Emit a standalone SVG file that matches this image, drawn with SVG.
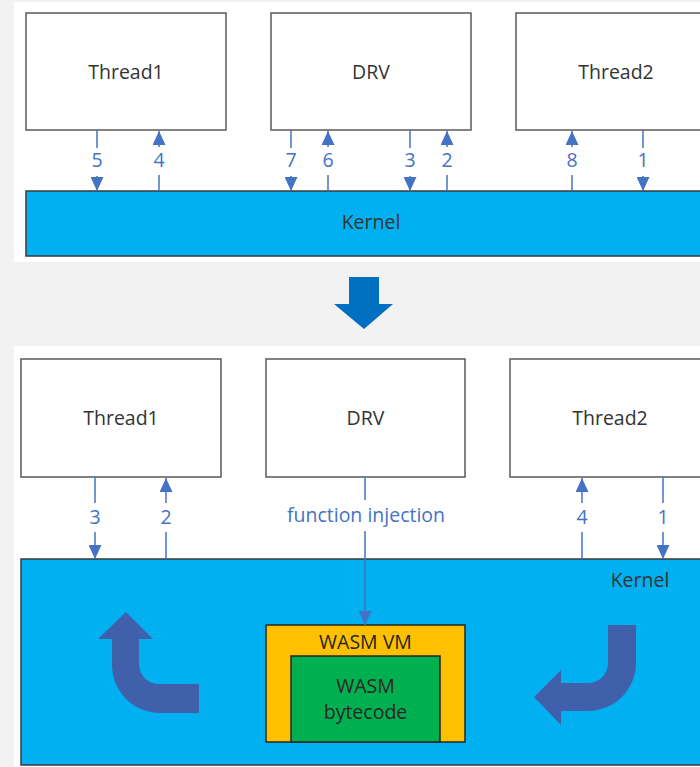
<svg xmlns="http://www.w3.org/2000/svg" width="700" height="767" viewBox="0 0 700 767">
<defs>
<marker id="ah" markerUnits="userSpaceOnUse" viewBox="0 0 14 13" refX="14" refY="6.5" markerWidth="14" markerHeight="13" orient="auto">
<path d="M0,0 L14,6.5 L0,13 Z" fill="#4472c4"/>
</marker>
<style>
.box{fill:#ffffff;stroke:#595959;stroke-width:1.5}
.kern{fill:#00b0f0;stroke:#3a3a3a;stroke-width:1.5}
.lbl{font-family:"Open Sans","Noto Sans",sans-serif;font-size:19.5px;fill:#333333;text-anchor:middle}
.num{font-family:"Open Sans","Noto Sans",sans-serif;font-size:19.5px;fill:#4472c4;text-anchor:middle}
.ln{stroke:#4472c4;stroke-width:1.5;fill:none}
.arr{marker-end:url(#ah)}
.curve{fill:#4060ab}
</style>
</defs>
<rect x="0" y="0" width="700" height="767" fill="#f2f2f2"/>
<rect x="14" y="2" width="700" height="260" fill="#ffffff"/>
<rect x="14" y="346" width="700" height="430" fill="#ffffff"/>

<!-- Top panel -->
<g id="top-kernel">
<rect class="kern" x="26" y="191" width="700" height="65"/>
<text class="lbl" x="371" y="229">Kernel</text>
</g>
<g id="top-thread1">
<rect class="box" x="26" y="13" width="200" height="117"/>
<text class="lbl" x="126" y="79">Thread1</text>
</g>
<g id="top-drv">
<rect class="box" x="271" y="13" width="200" height="117"/>
<text class="lbl" x="371" y="79">DRV</text>
</g>
<g id="top-thread2">
<rect class="box" x="516" y="13" width="200" height="117"/>
<text class="lbl" x="616" y="79">Thread2</text>
</g>

<g id="top-connectors">
<line class="ln" x1="97" y1="130" x2="97" y2="148"/><line class="ln arr" x1="97" y1="176" x2="97" y2="191"/>
<text class="num" x="97" y="167">5</text>
<line class="ln arr" x1="159" y1="147" x2="159" y2="131"/><line class="ln" x1="159" y1="175" x2="159" y2="191"/>
<text class="num" x="159" y="167">4</text>
<line class="ln" x1="291" y1="130" x2="291" y2="148"/><line class="ln arr" x1="291" y1="176" x2="291" y2="191"/>
<text class="num" x="291" y="167">7</text>
<line class="ln arr" x1="328" y1="147" x2="328" y2="131"/><line class="ln" x1="328" y1="175" x2="328" y2="191"/>
<text class="num" x="328" y="167">6</text>
<line class="ln" x1="410" y1="130" x2="410" y2="148"/><line class="ln arr" x1="410" y1="176" x2="410" y2="191"/>
<text class="num" x="410" y="167">3</text>
<line class="ln arr" x1="447" y1="147" x2="447" y2="131"/><line class="ln" x1="447" y1="175" x2="447" y2="191"/>
<text class="num" x="447" y="167">2</text>
<line class="ln arr" x1="572" y1="147" x2="572" y2="131"/><line class="ln" x1="572" y1="175" x2="572" y2="191"/>
<text class="num" x="572" y="167">8</text>
<line class="ln" x1="643" y1="130" x2="643" y2="148"/><line class="ln arr" x1="643" y1="176" x2="643" y2="191"/>
<text class="num" x="643" y="167">1</text>
</g>

<!-- Transition arrow -->
<polygon points="349,277 379,277 379,304 393,304 364,329 334,304 349,304" fill="#0070c0"/>

<!-- Bottom panel -->
<g id="bottom-kernel">
<rect class="kern" x="21" y="559" width="700" height="206"/>
<text class="lbl" x="640" y="587">Kernel</text>
<path class="curve" d="M126 612 L153 639 L139 639 L139 664 A20 20 0 0 0 159 684 L199 684 L199 713 L160 713 A48 48 0 0 1 112 665 L112 639 L98 639 Z"/>
<path class="curve" d="M608 625 L636 625 L636 663 A48 48 0 0 1 588 711 L561 711 L561 725 L534 697 L561 670 L561 683 L588 683 A20 20 0 0 0 608 663 Z"/>
</g>
<g id="wasm-vm">
<rect x="266" y="625" width="199" height="117" fill="#ffc000" stroke="#262626" stroke-width="1.5"/>
<text class="lbl" x="365.5" y="649" style="fill:#262626">WASM VM</text>
</g>
<g id="wasm-bytecode">
<rect x="291" y="656" width="149" height="86" fill="#00b050" stroke="#262626" stroke-width="1.5"/>
<text class="lbl" x="365.5" y="693" style="fill:#262626">WASM</text>
<text class="lbl" x="365.5" y="719" style="fill:#262626">bytecode</text>
</g>
<g id="bottom-thread1">
<rect class="box" x="21" y="359" width="200" height="118"/>
<text class="lbl" x="121" y="425">Thread1</text>
</g>
<g id="bottom-drv">
<rect class="box" x="266" y="359" width="199" height="118"/>
<text class="lbl" x="365.5" y="425">DRV</text>
</g>
<g id="bottom-thread2">
<rect class="box" x="510" y="359" width="200" height="118"/>
<text class="lbl" x="610" y="425">Thread2</text>
</g>

<g id="bottom-connectors">
<line class="ln" x1="95" y1="477" x2="95" y2="503"/><line class="ln arr" x1="95" y1="532" x2="95" y2="559"/>
<text class="num" x="95" y="524">3</text>
<line class="ln arr" x1="166" y1="503" x2="166" y2="478"/><line class="ln" x1="166" y1="532" x2="166" y2="559"/>
<text class="num" x="166" y="524">2</text>
<line class="ln" x1="365" y1="477" x2="365" y2="500"/><line class="ln arr" x1="365" y1="531" x2="365" y2="625"/>
<text class="num" x="366" y="522">function injection</text>
<line class="ln arr" x1="582" y1="503" x2="582" y2="478"/><line class="ln" x1="582" y1="532" x2="582" y2="559"/>
<text class="num" x="582" y="524">4</text>
<line class="ln" x1="663" y1="477" x2="663" y2="503"/><line class="ln arr" x1="663" y1="532" x2="663" y2="559"/>
<text class="num" x="663" y="524">1</text>
</g>
</svg>
